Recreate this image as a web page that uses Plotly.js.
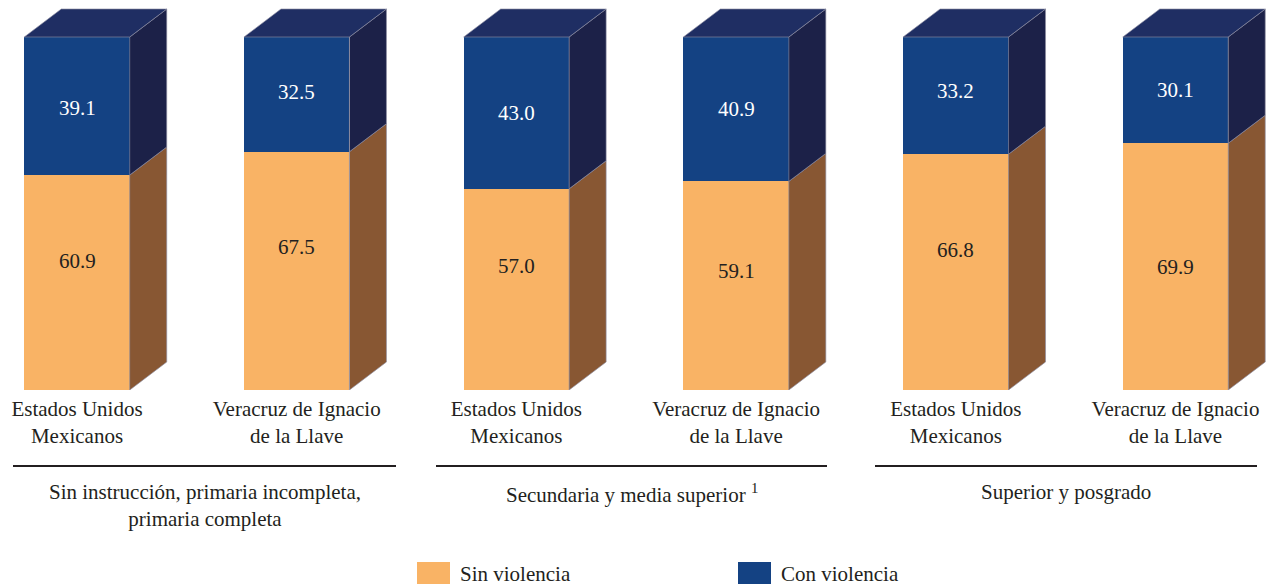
<!DOCTYPE html>
<html>
<head>
<meta charset="utf-8">
<script src="https://cdn.plot.ly/plotly-3.0.1.min.js"></script>
<style>html,body{margin:0;padding:0;background:#fff;}#chart{width:1269px;height:588px;}</style>
</head>
<body>
<div id="chart"></div>
<script>
// ---- data ----
const categories = [
  'Estados Unidos<br>Mexicanos', 'Veracruz de Ignacio<br>de la Llave',
  'Estados Unidos<br>Mexicanos', 'Veracruz de Ignacio<br>de la Llave',
  'Estados Unidos<br>Mexicanos', 'Veracruz de Ignacio<br>de la Llave'
];
const groups = [
  'Sin instrucción, primaria incompleta,<br>primaria completa',
  'Secundaria y media superior <sup>1</sup>',
  'Superior y posgrado'
];
const sinViolencia = [60.9, 67.5, 57.0, 59.1, 66.8, 69.9];
const conViolencia = [39.1, 32.5, 43.0, 40.9, 33.2, 30.1];
const seriesNames = ['Sin violencia', 'Con violencia'];

// ---- style ----
const FONT = 'Liberation Serif';
const TXT = '#231f20';
const C_OR = '#F9B365', C_OR_SIDE = '#885733';
const C_BL = '#144283', C_BL_SIDE = '#1C2148', C_TOP = '#1F2E63';
const EDGE = 'rgba(140,140,160,0.8)';
const W = 0.48;           // bar width (x units)
const DX = 0.1684;        // depth offset x (units)
const DY = 7.93;          // depth offset y (units)
const PXU = 219.7;        // px per x unit
const X0PX = 77;          // px of x = 0
const orangeShift = [22, 24, 23, 15, 22, 0];   // label lift (px)
const blueShift = [-2, 2, 0, 0, 5, 0];
const groupLinePx = [[13, 396], [436, 827], [875, 1257]];

function draw() {
  const xs = categories.map((_, i) => i);
  const toX = p => (p - X0PX) / PXU;
  const traces = [];

  traces.push({type: 'bar', x: xs, y: sinViolencia, name: seriesNames[0], width: W,
    marker: {color: C_OR, line: {width: 0}}, showlegend: false, hoverinfo: 'skip'});
  traces.push({type: 'bar', x: xs, y: conViolencia, name: seriesNames[1], width: W,
    marker: {color: C_BL, line: {width: 0}}, showlegend: false, hoverinfo: 'skip'});

  function poly(px, py, color) {
    traces.push({type: 'scatter', mode: 'lines', x: px.concat([px[0]]), y: py.concat([py[0]]),
      fill: 'toself', fillcolor: color, line: {color: EDGE, width: 0.8},
      showlegend: false, hoverinfo: 'skip'});
  }
  xs.forEach((x, i) => {
    const r = x + W / 2, l = x - W / 2;
    const v1 = sinViolencia[i], v2 = sinViolencia[i] + conViolencia[i];
    poly([r, r + DX, r + DX, r], [0, DY, v1 + DY, v1], C_OR_SIDE);
    poly([r, r + DX, r + DX, r], [v1, v1 + DY, v2 + DY, v2], C_BL_SIDE);
    poly([l, r, r + DX, l + DX], [v2, v2, v2 + DY, v2 + DY], C_TOP);
  });

  const H = 390; // plot height px
  const py = p => (H - p) / H; // pixel row -> paper y
  const annotations = [];
  xs.forEach((x, i) => {
    const v1 = sinViolencia[i], v2 = conViolencia[i];
    annotations.push({x: x, y: v1 / 2, xref: 'x', yref: 'y', text: v1.toFixed(1), showarrow: false,
      yshift: orangeShift[i], font: {family: FONT, size: 21, color: TXT}});
    annotations.push({x: x, y: v1 + v2 / 2, xref: 'x', yref: 'y', text: v2.toFixed(1), showarrow: false,
      yshift: blueShift[i], font: {family: FONT, size: 21, color: '#ffffff'}});
  });
  const shapes = [];
  groups.forEach((g, k) => {
    const a = toX(groupLinePx[k][0]), b = toX(groupLinePx[k][1]);
    shapes.push({type: 'line', xref: 'x', yref: 'paper', x0: a, x1: b,
      y0: py(466), y1: py(466), line: {color: '#231f20', width: 2}});
    annotations.push({x: (a + b) / 2, y: py(478), xref: 'x', yref: 'paper', yanchor: 'top', text: g,
      showarrow: false, font: {family: FONT, size: 21, color: TXT}});
  });
  // legend
  const legendItems = [[seriesNames[0], C_OR, 417], [seriesNames[1], C_BL, 738]];
  legendItems.forEach(([name, col, x0]) => {
    shapes.push({type: 'rect', xref: 'paper', yref: 'paper', x0: x0 / 1269, x1: (x0 + 33) / 1269,
      y0: py(584), y1: py(562), fillcolor: col, line: {width: 0}});
    annotations.push({x: (x0 + 41) / 1269, y: py(574), xref: 'paper', yref: 'paper', xanchor: 'left',
      yanchor: 'middle', text: name, showarrow: false, font: {family: FONT, size: 21, color: TXT}});
  });

  const layout = {
    width: 1269, height: 588,
    font: {family: FONT, size: 21, color: TXT},
    margin: {l: 0, r: 0, t: 0, b: 198, pad: 0},
    paper_bgcolor: '#fff', plot_bgcolor: '#fff',
    barmode: 'stack', showlegend: false, hovermode: false,
    xaxis: {range: [toX(0), toX(1269)], tickvals: xs, ticktext: categories,
      showgrid: false, zeroline: false, showline: false, ticks: '',
      tickfont: {family: FONT, size: 21, color: TXT}, ticklabelstandoff: 4, fixedrange: true},
    yaxis: {range: [0, H / 3.53], visible: false, fixedrange: true},
    shapes: shapes, annotations: annotations
  };
  Plotly.newPlot('chart', traces, layout, {displayModeBar: false});
}
if (document.fonts && document.fonts.load) {
  document.fonts.load('21px "Liberation Serif"').then(draw, draw);
} else {
  draw();
}
</script>
</body>
</html>
